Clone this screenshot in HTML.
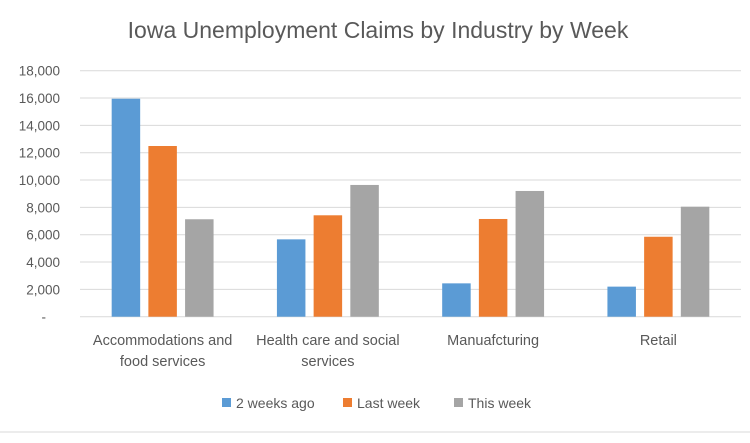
<!DOCTYPE html>
<html><head><meta charset="utf-8"><style>
body{margin:0;background:#fff;font-family:"Liberation Sans",sans-serif;}
svg text{font-family:"Liberation Sans",sans-serif;fill:#595959;}
</style></head><body>
<svg width="750" height="438" viewBox="0 0 750 438" id="chart">
<text x="378" y="38" text-anchor="middle" font-size="23">Iowa Unemployment Claims by Industry by Week</text>
<g id="grid"></g><g id="bars"></g><g id="labels"></g>
<g>
<rect x="222" y="398" width="9" height="9" fill="#5b9bd5"/>
<text x="236" y="408" font-size="14">2 weeks ago</text>
<rect x="343" y="398" width="9" height="9" fill="#ed7d31"/>
<text x="357" y="408" font-size="14">Last week</text>
<rect x="454" y="398" width="9" height="9" fill="#a5a5a5"/>
<text x="468" y="408" font-size="14">This week</text>
</g>
<line x1="0" y1="432" x2="750" y2="432" stroke="#d9d9d9"/>
</svg>
<script>
const categories=[["Accommodations and","food services"],["Health care and social","services"],["Manuafcturing"],["Retail"]];
const twoWeeksAgo=[15950,5660,2440,2200];
const lastWeek=[12490,7420,7150,5850];
const thisWeek=[7130,9640,9200,8050];
const tickValues=[0,2000,4000,6000,8000,10000,12000,14000,16000,18000];
const tickLabels=["-","2,000","4,000","6,000","8,000","10,000","12,000","14,000","16,000","18,000"];
const NS="http://www.w3.org/2000/svg";
const x0=80,x1=741,yTop=70.7,yBot=316.7,yMax=18000;
const y=v=>yBot-(v/yMax)*(yBot-yTop);
const bandW=(x1-x0)/categories.length;
const xc=i=>x0+bandW*(i+0.5);
const g=document.getElementById('grid'),b=document.getElementById('bars'),l=document.getElementById('labels');
function mk(t,a){const e=document.createElementNS(NS,t);for(const k in a)e.setAttribute(k,a[k]);return e;}
tickValues.forEach((v,i)=>{
 const ln=mk('line',{x1:x0,x2:x1,y1:y(v),y2:y(v),stroke:'#d9d9d9','stroke-width':1});
 
 
 g.appendChild(ln);
 const t=mk('text',{x:i==0?46:60,y:y(v)+5,'text-anchor':'end','font-size':13.5});
 t.textContent=tickLabels[i];
 
 
 g.appendChild(t);
});
const series=[[twoWeeksAgo,'#5b9bd5','2-weeks-ago'],[lastWeek,'#ed7d31','last-week'],[thisWeek,'#a5a5a5','this-week']];
const bw=28.5,step=36.7;
series.forEach(([vals,col,nm],s)=>{
 vals.forEach((v,i)=>{
  const r=mk('rect',{x:xc(i)+(s-1)*step-bw/2,y:y(v),width:bw,height:yBot-y(v),fill:col});
  
  
  b.appendChild(r);
 });
});
categories.forEach((c,i)=>{
 c.forEach((line,j)=>{
  const t=mk('text',{x:xc(i),y:345+j*21,'text-anchor':'middle','font-size':14.5});
  t.textContent=line;
  
  
  l.appendChild(t);
 });
});
</script>
</body></html>
